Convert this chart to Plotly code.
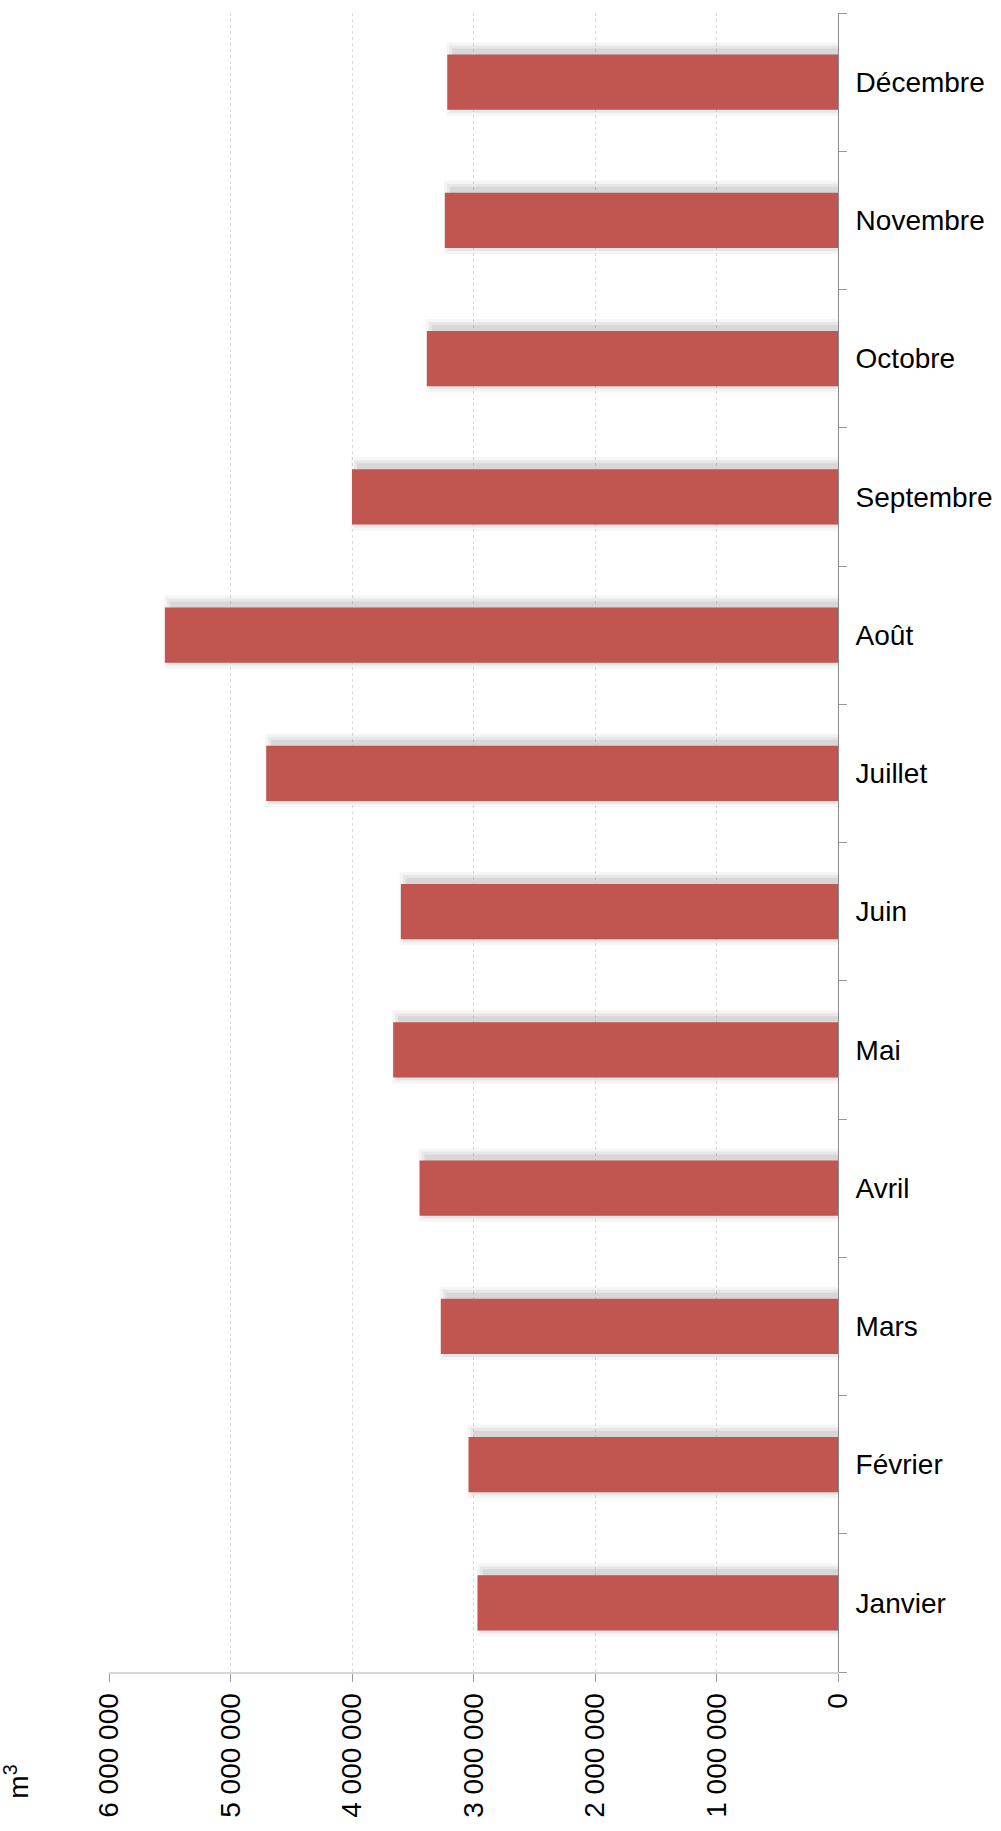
import plotly.graph_objects as go

# ---- data ----
months = ["Janvier", "Février", "Mars", "Avril", "Mai", "Juin",
          "Juillet", "Août", "Septembre", "Octobre", "Novembre", "Décembre"]
volumes_m3 = [2967000, 3041000, 3269000, 3444000, 3661000, 3598000,
              4706000, 5540000, 4000000, 3384000, 3236000, 3216000]
tick_values = [0, 1000000, 2000000, 3000000, 4000000, 5000000, 6000000]
tick_labels = ["0", "1 000 000", "2 000 000", "3 000 000", "4 000 000",
               "5 000 000", "6 000 000"]
unit_label = "m<sup>3</sup>"

FONT = "Liberation Sans, Arial, sans-serif"
BAR_COLOR = "#C0564F"
BAR_W = 0.4

fig = go.Figure()

# soft shadow layers (drawn under the bars, shifted slightly up)
px_per_cat = 138.3
px_per_unit = 121.5 / 1e6
for spread_px, op in [(9, 0.05), (6, 0.07), (3, 0.09)]:
    s = spread_px / px_per_cat
    up = 3 / px_per_cat
    trim = (8 - spread_px) / px_per_unit
    fig.add_trace(go.Bar(
        y=months,
        x=[v - trim for v in volumes_m3],
        orientation="h",
        width=BAR_W + 2 * s,
        offset=-BAR_W / 2 - s + up,
        marker=dict(color="rgba(60,60,60,%.3f)" % op, line=dict(width=0)),
        hoverinfo="skip",
        showlegend=False,
    ))

fig.add_trace(go.Bar(
    y=months,
    x=volumes_m3,
    orientation="h",
    width=BAR_W,
    offset=-BAR_W / 2,
    marker=dict(color=BAR_COLOR, line=dict(width=0)),
    showlegend=False,
))

fig.update_layout(
    width=1001,
    height=1831,
    margin=dict(l=109, r=163, t=13, b=159, pad=0),
    barmode="overlay",
    plot_bgcolor="white",
    paper_bgcolor="white",
    font=dict(family=FONT, size=28, color="#000000"),
    showlegend=False,
)

fig.update_xaxes(
    automargin=False,
    range=[6000000, 0],
    tickmode="array",
    tickvals=tick_values,
    ticktext=tick_labels,
    tickangle=-90,
    tickfont=dict(family=FONT, size=28, color="#000000"),
    showgrid=True,
    gridcolor="#dcdcdc",
    gridwidth=1,
    griddash="dot",
    showline=True,
    linecolor="#d6d6d6",
    linewidth=2,
    ticks="outside",
    ticklen=8,
    tickcolor="#9a9a9a",
    tickwidth=1,
    zeroline=False,
    ticklabelstandoff=0,
)

fig.update_yaxes(
    automargin=False,
    categoryorder="array",
    categoryarray=months,
    side="right",
    showline=True,
    linecolor="#8c8c8c",
    linewidth=1,
    ticks="outside",
    ticklen=8,
    tickcolor="#9a9a9a",
    tickson="boundaries",
    showgrid=False,
    tickfont=dict(family=FONT, size=28, color="#000000"),
    ticklabelstandoff=11,
)

fig.add_annotation(
    text=unit_label,
    xref="paper", yref="paper",
    x=-0.126, y=-0.066,
    xanchor="center", yanchor="middle",
    textangle=-90,
    showarrow=False,
    font=dict(family=FONT, size=28, color="#000000"),
)

fig.write_html("out.html")
